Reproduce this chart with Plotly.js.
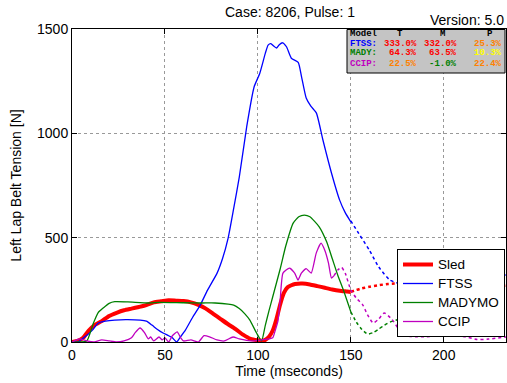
<!DOCTYPE html>
<html><head><meta charset="utf-8">
<script src="https://cdn.plot.ly/plotly-3.0.1.min.js"></script>
<style>html,body{margin:0;padding:0;background:#fff}#plot{width:507px;height:383px}</style>
</head><body><div id="plot"></div>
<script>
// ---- data ----
const sledT = [0,3,6,9,12,16,20,24,28,32,36,40,44,48,52,56,60,64,68,72,76,80,84,88,92,96,100,102,104,106,108,110,112,114,116,118,120,124,128,132,136,140,144,148,150];
const sledV = [0,5,20,55,80,100,125,140,152,160,168,177,190,195,200,198,196,190,178,160,135,110,85,62,35,15,8,6,10,25,55,110,180,235,262,272,278,280,276,268,260,252,246,242,240];
const sledDotT = [150,155,160,165,170,180,190,200,210,220,234];
const sledDotV = [240,255,265,272,278,282,280,278,275,272,270];

const ftssT = [0,3,7,11,14,18,23,30,40,43,46,49,52,54,56.3,58,61,65,69,73,78,81,84,87,90,94,98,101,104,105.5,107,108.5,110,111.5,113.3,115.4,118,121.7,123.5,126,128.5,131.5,135,139.6,144,147,150];
const ftssV = [0,0,25,57,90,100,105,107,100,81,60,43,30,20,0,20,57,120,177,250,329,400,498,640,790,1032,1223,1287,1383,1423,1430,1418,1409,1425,1434,1415,1360,1340,1271,1169,1130,1097,968,810,680,620,576];
const ftssDotT = [150,155,160,165,171,180,190,200,210,220,234];
const ftssDotV = [580,510,440,360,297,270,265,280,300,315,321];

const madyT = [0,5,8,11.5,14,16.8,20,23,30,41,47,60,70,77,84,87,90,93,95.7,99.3,102,104,106,108,112,115,119,122,125,128,133,137,140,143,146,150];
const madyV = [0,0,5,90,140,163,185,193,192,187,190,188,187,187,182,177,160,135,105,43,5,80,150,217,350,460,570,600,608,600,552,480,400,320,249,145];
const madyDotT = [150,153,156,159,162,165,168,171,180,190,200,210,220,234];
const madyDotV = [145,95,60,38,45,62,80,95,120,150,160,150,140,130];

const ccipT = [0,4,8,12,16,20,24,28,32,34,36.6,39,41,42.3,44,46.8,48.5,50,52,54,56.6,58.5,60,64,68,71,74,78,82,86.6,90,94,98,102,106,108,109.5,110.8,112,113.5,117,119.8,121.6,123.4,126,128.7,131.4,134,136,138,139.6,141];
const ccipV = [0,15,5,0,10,5,0,5,20,45,67,45,15,24,5,24,10,20,0,30,48,20,5,10,0,30,25,10,5,24,15,8,5,10,15,20,60,100,200,330,354,330,297,330,352,330,426,474,440,378,306,318];
const ccipDotT = [141,143,145,147,150,153,156.5,159,162,165,168,172,176,180,185,190,195,200,204,208,212,218,224,234];
const ccipDotV = [318,345,358,330,249,210,177,130,91,110,139,110,60,30,25,25,28,30,30,28,25,12,14,25];

const seriesNames = ['Sled','FTSS','MADYMO','CCIP'];

const tableRows = [
  {model:'FTSS:', mc:'#0000ff', T:'333.0%', Tc:'#ff0000', M:'332.0%', Mc:'#ff0000', P:'25.3%', Pc:'#ff8000'},
  {model:'MADY:', mc:'#008000', T:'64.3%',  Tc:'#ff0000', M:'63.5%',  Mc:'#ff0000', P:'10.3%', Pc:'#ffff00'},
  {model:'CCIP:', mc:'#bf00bf', T:'22.5%',  Tc:'#ff8000', M:'-1.0%',  Mc:'#008000', P:'22.4%', Pc:'#ff8000'}
];

// ---- layout helpers (pixel -> paper) ----
const W=507,H=383,L=72,R=1,TOP=29,B=41;
const pw=W-L-R, ph=H-TOP-B;
const px=x=>(x-L)/pw, py=y=>(H-B-y)/ph;

const RED='#ff0000', BLUE='#0000ff', GREEN='#008000', MAG='#bf00bf';
const lg=n=>'<span style="font-size:13.5px">'+n+'</span>';
const sp={shape:'spline',smoothing:0.5};
const traces=[
  {x:sledT,y:sledV,name:lg(seriesNames[0]),mode:'lines',line:Object.assign({color:RED,width:4},sp)},
  {x:ftssT,y:ftssV,name:lg(seriesNames[1]),mode:'lines',line:Object.assign({color:BLUE,width:1.3},sp)},
  {x:madyT,y:madyV,name:lg(seriesNames[2]),mode:'lines',line:Object.assign({color:GREEN,width:1.3},sp)},
  {x:ccipT,y:ccipV,name:lg(seriesNames[3]),mode:'lines',line:Object.assign({color:MAG,width:1.3},sp)},
  {x:sledDotT,y:sledDotV,mode:'lines',showlegend:false,line:Object.assign({color:RED,width:2.5,dash:'dot'},sp)},
  {x:ftssDotT,y:ftssDotV,mode:'lines',showlegend:false,line:Object.assign({color:BLUE,width:1.5,dash:'dot'},sp)},
  {x:madyDotT,y:madyDotV,mode:'lines',showlegend:false,line:Object.assign({color:GREEN,width:1.5,dash:'dot'},sp)},
  {x:ccipDotT,y:ccipDotV,mode:'lines',showlegend:false,line:Object.assign({color:MAG,width:1.5,dash:'dot'},sp)}
];

const mono={family:'Liberation Mono, Courier New, monospace',size:9};
const ann=[];
function cell(text,x,y,color,anchor){
  ann.push({text:'<b>'+text+'</b>',x:px(x),y:py(y),xref:'paper',yref:'paper',xanchor:anchor,yanchor:'middle',showarrow:false,borderpad:0,font:Object.assign({},mono,{color:color})});
}
cell('Model',349,33.5,'#000','left');
cell('T',400,33.5,'#000','center');
cell('M',442,33.5,'#000','center');
cell('P',490,33.5,'#000','center');
const rowY=[43.5,53.5,63.5];
tableRows.forEach((r,i)=>{
  cell(r.model,349,rowY[i],r.mc,'left');
  cell(r.T,418,rowY[i],r.Tc,'right');
  cell(r.M,458,rowY[i],r.Mc,'right');
  cell(r.P,503,rowY[i],r.Pc,'right');
});
const font={family:'Liberation Sans, Arial, sans-serif',size:14,color:'#000'};
ann.push({text:'Case: 8206, Pulse: 1',x:px(290),y:py(12),xref:'paper',yref:'paper',xanchor:'center',yanchor:'middle',showarrow:false,font:font});
ann.push({text:'Version: 5.0',x:px(505),y:py(20),xref:'paper',yref:'paper',xanchor:'right',yanchor:'middle',showarrow:false,borderpad:0,font:font});

const layout={
  width:W,height:H,margin:{l:L,r:R,t:TOP,b:B},
  paper_bgcolor:'#fff',plot_bgcolor:'#fff',
  font:font,
  showlegend:true,
  legend:{x:px(505),y:py(337),xanchor:'right',yanchor:'bottom',bgcolor:'#fff',bordercolor:'#000',borderwidth:1,font:{family:font.family,size:11,color:'#000'},tracegroupgap:0},
  xaxis:{range:[0,233.5],tickvals:[0,50,100,150,200],ticks:'inside',ticklen:5,tickcolor:'#000',showline:true,linecolor:'#000',linewidth:1,mirror:'ticks',showgrid:true,gridcolor:'#999',griddash:'dot',zeroline:false,tickfont:font,
    title:{text:'Time (mseconds)',font:font,standoff:4}},
  yaxis:{range:[0,1500],tickvals:[0,500,1000,1500],ticks:'inside',ticklen:5,tickcolor:'#000',showline:true,linecolor:'#000',linewidth:1,mirror:'ticks',showgrid:true,gridcolor:'#999',griddash:'dot',zeroline:false,tickfont:font,
    title:{text:'Left Lap Belt Tension [N]',font:font,standoff:12}},
  shapes:[{type:'rect',xref:'paper',yref:'paper',x0:px(347),x1:px(505),y0:py(73),y1:py(29.5),fillcolor:'#c4c4c4',line:{color:'#000',width:1},layer:'above'}],
  annotations:ann
};
Plotly.newPlot('plot',traces,layout,{staticPlot:true,displayModeBar:false});
</script></body></html>
